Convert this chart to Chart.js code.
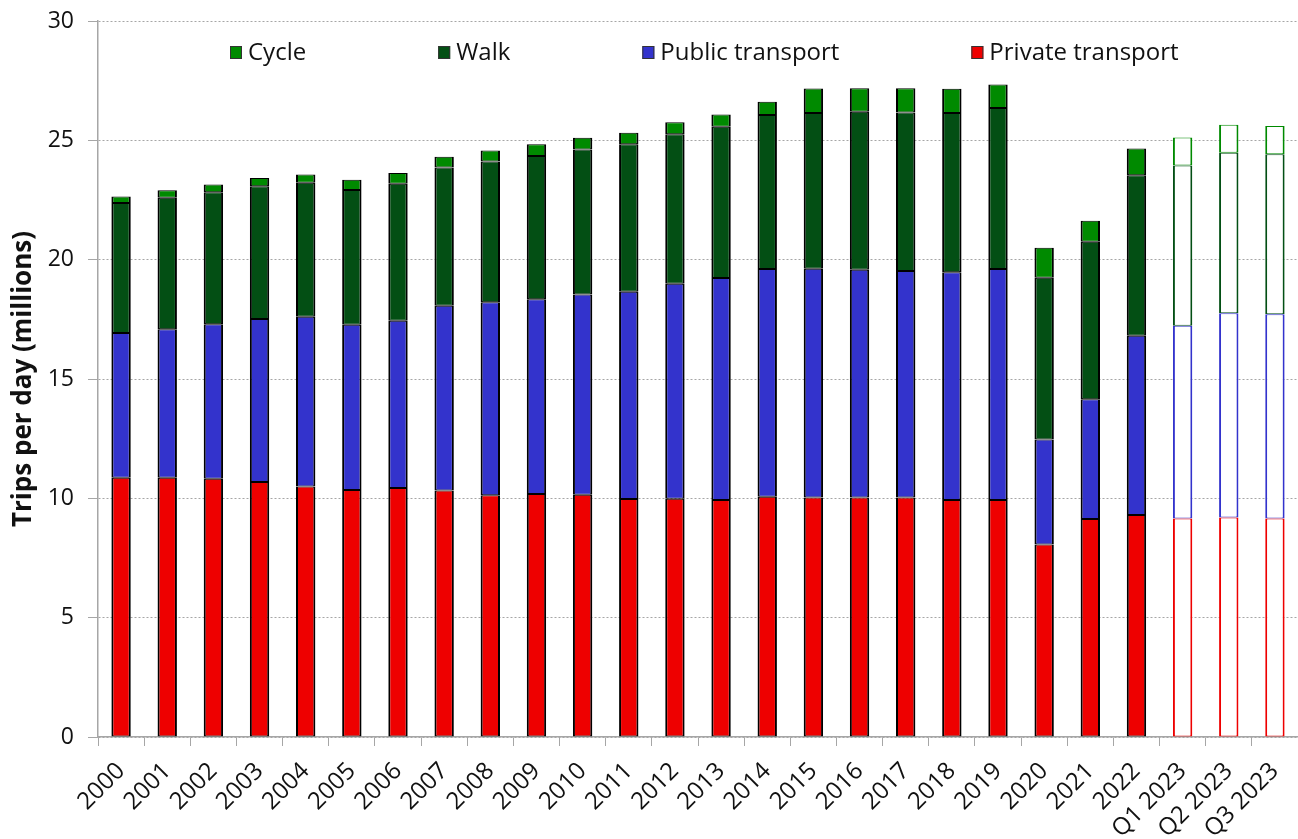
<!DOCTYPE html>
<html>
<head>
<meta charset="utf-8">
<script src="https://cdn.jsdelivr.net/npm/chart.js@4.4.1/dist/chart.umd.min.js"></script>
<style>
  html, body { margin: 0; padding: 0; background: #fff; }
  #wrap { width: 1298px; height: 839px; position: relative; }
</style>
</head>
<body>
<div id="wrap"><canvas id="tripsChart"></canvas></div>
<script>
// trips per day by mode, millions
const categories = ["2000","2001","2002","2003","2004","2005","2006","2007","2008","2009",
  "2010","2011","2012","2013","2014","2015","2016","2017","2018","2019",
  "2020","2021","2022","Q1 2023","Q2 2023","Q3 2023"];

const privateTransport = [10.86,10.86,10.82,10.68,10.50,10.35,10.43,10.33,10.13,10.18,
  10.15,9.97,9.98,9.93,10.07,10.03,10.04,10.03,9.93,9.93,
  8.07,9.13,9.30,9.16,9.20,9.16];
const publicTransport = [6.07,6.22,6.47,6.83,7.11,6.92,7.01,7.74,8.09,8.16,
  8.39,8.69,9.01,9.30,9.54,9.59,9.54,9.49,9.54,9.68,
  4.40,5.02,7.51,8.07,8.56,8.55];
const walk = [5.44,5.51,5.53,5.57,5.61,5.65,5.74,5.79,5.89,6.00,
  6.08,6.18,6.27,6.34,6.45,6.53,6.62,6.65,6.68,6.74,
  6.77,6.60,6.73,6.72,6.72,6.71];
const cycle = [0.28,0.32,0.33,0.34,0.35,0.43,0.45,0.45,0.46,0.50,
  0.49,0.48,0.50,0.51,0.56,1.02,0.98,1.01,1.01,0.99,
  1.26,0.88,1.12,1.17,1.17,1.18];

const yTicks = [0, 5, 10, 15, 20, 25, 30];

const FONT = "'Open Sans', Lato, sans-serif";

// quarterly bars are drawn hollow
const isQuarter = (i) => categories[i].startsWith("Q");

function makeSet(label, data, color) {
  return {
    label,
    data,
    _color: color,
    backgroundColor: data.map((_, i) => (isQuarter(i) ? "#ffffff" : color)),
    borderColor: data.map((_, i) => (isQuarter(i) ? color : "#000000")),
    borderWidth: { left: 2, right: 2, top: 1, bottom: 1 },
    borderSkipped: false,
    barPercentage: 0.42,
    categoryPercentage: 1,
  };
}

// legend drawn inside the plot, spaced like the original
const insideLegend = {
  id: "insideLegend",
  afterDraw(chart) {
    const { ctx, chartArea } = chart;
    const sets = chart.data.datasets.slice().reverse();
    ctx.save();
    ctx.font = "24px " + FONT;
    ctx.textBaseline = "middle";
    let x = chartArea.left + 132;
    const y = chartArea.top + 31;
    sets.forEach((ds) => {
      ctx.fillStyle = ds._color;
      ctx.fillRect(x, y - 6, 12, 13);
      ctx.strokeStyle = "#333";
      ctx.lineWidth = 1;
      ctx.strokeRect(x + 0.5, y - 5.5, 11, 12);
      ctx.fillStyle = "#111";
      ctx.fillText(ds.label, x + 18, y + 1);
      x += 18 + ctx.measureText(ds.label).width + 132;
    });
    ctx.restore();
  },
};

new Chart(document.getElementById("tripsChart"), {
  type: "bar",
  data: {
    labels: categories,
    datasets: [
      makeSet("Private transport", privateTransport, "#ee0000"),
      makeSet("Public transport", publicTransport, "#3333cc"),
      makeSet("Walk", walk, "#034f14"),
      makeSet("Cycle", cycle, "#008a00"),
    ],
  },
  options: {
    responsive: true,
    maintainAspectRatio: false,
    animation: false,
    layout: { padding: { top: 21, right: 0, left: 0, bottom: 0 } },
    plugins: {
      legend: { display: false },
      tooltip: { enabled: false },
    },
    scales: {
      x: {
        stacked: true,
        offset: true,
        grid: { drawOnChartArea: false, tickLength: 9, color: "#a6a6a6", offset: true },
        border: { color: "#a6a6a6", width: 1.5 },
        ticks: {
          color: "#111",
          font: { family: FONT, size: 24 },
          maxRotation: 45,
          minRotation: 45,
          autoSkip: false,
          padding: 11,
        },
        afterFit(scale) {
          scale.height = 102;
          scale.paddingLeft = 0;
          scale.paddingRight = 0;
        },
      },
      y: {
        stacked: true,
        min: 0,
        max: 30,
        afterBuildTicks(scale) { scale.ticks = yTicks.map((v) => ({ value: v })); },
        grid: { color: "#a6a6a6", tickLength: 10, lineWidth: 1 },
        border: { color: "#a6a6a6", width: 1.5, dash: [2, 2] },
        ticks: {
          color: "#111",
          font: { family: FONT, size: 23 },
          padding: 14,
        },
        title: {
          display: true,
          text: "Trips per day (millions)",
          color: "#111",
          font: { family: FONT, size: 26, weight: "bold" },
          padding: { top: 8, bottom: 0 },
        },
        afterFit(scale) {
          scale.width = 98;
          scale.paddingTop = 0;
          scale.paddingBottom = 0;
        },
      },
    },
  },
  plugins: [insideLegend],
});
</script>
</body>
</html>
